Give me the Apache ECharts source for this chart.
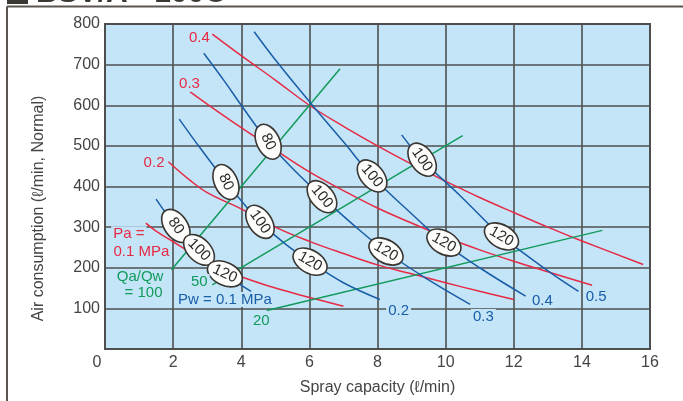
<!DOCTYPE html>
<html>
<head>
<meta charset="utf-8">
<script src="https://cdn.jsdelivr.net/npm/echarts@6/dist/echarts.min.js"></script>
<style>
html,body{margin:0;padding:0;background:#fff;}
#c{width:683px;height:401px;}
</style>
</head>
<body>
<div id="c"></div>
<script>
// ---- Axis ticks ----
const xTicks = [0, 2, 4, 6, 8, 10, 12, 14, 16];
const yTicks = [0, 100, 200, 300, 400, 500, 600, 700, 800];

// ---- Red curves: air pressure Pa (MPa) ----
const pa04X = [3.15, 4, 5, 6, 7, 8, 9, 10, 11, 12, 13, 14, 15.8];
const pa04Y = [775, 722, 662, 600, 548, 500, 455, 413, 373, 336, 300, 266, 208];
const pa03X = [2.5, 3, 4, 5, 6, 7, 8, 9, 10, 11, 12, 13, 14.3];
const pa03Y = [633, 603, 545, 490, 436, 390, 347, 310, 275, 244, 216, 190, 157];
const pa02X = [1.86, 2.5, 3, 4, 5, 6, 7, 8, 9, 10, 11, 12];
const pa02Y = [461, 415, 385, 345, 300, 265, 235, 207, 185, 163, 142, 122];
const pa01X = [1.2, 1.5, 2, 2.5, 3, 3.5, 4, 5, 6, 7];
const pa01Y = [310, 290, 264, 238, 215, 195, 178, 150, 127, 105];

// ---- Blue curves: water pressure Pw (MPa) ----
const pw01X = [1.5, 2.08, 2.76, 3.52, 4.29];
const pw01Y = [369, 303, 244, 185, 142];
const pw02X = [2.18, 2.8, 3.55, 4.05, 4.55, 5.3, 6.02, 7, 8.07];
const pw02Y = [566, 494, 411, 360, 313, 258, 215, 163, 122];
const pw03X = [2.9, 3.5, 4, 4.79, 5.5, 6.37, 7.3, 8.25, 9.5, 10.72];
const pw03Y = [728, 660, 600, 510, 445, 375, 305, 240, 170, 110];
const pw04X = [4.38, 5, 6.04, 7, 7.84, 9, 9.95, 11, 12.35];
const pw04Y = [781, 712, 605, 510, 426, 333, 262, 200, 130];
const pw05X = [8.71, 9.31, 10.42, 11.64, 12.08, 13.16, 13.9];
const pw05Y = [527, 466, 378, 277, 249, 183, 142];

// ---- Green lines: Qa/Qw ratio ----
const qr100X = [1.95, 6.9];
const qr100Y = [195, 690];
const qr50X = [3.15, 10.5];
const qr50Y = [158, 525];
const qr20X = [4.75, 14.6];
const qr20Y = [95, 292];

// ---- Ellipse markers (spray angle) on blue curves ----
const ellipseText = ['80', '100', '120', '80', '100', '120', '80', '100', '120', '100', '120', '100', '120'];
const ellipseX = [2.08, 2.76, 3.52, 3.55, 4.55, 6.02, 4.79, 6.37, 8.25, 7.84, 9.95, 9.31, 11.64];
const ellipseY = [303, 244, 185, 411, 313, 215, 510, 375, 240, 426, 262, 466, 277];
const ellipseTilt = [-55, -45, -25, -65, -55, -30, -65, -50, -30, -50, -30, -55, -30];

// ---- Curve annotations ----
const redText = ['0.4', '0.3', '0.2', 'Pa =', '0.1 MPa'];
const redX = [2.77, 2.48, 1.44, 0.70, 1.07];
const redY = [765, 652, 459, 284, 240];
const greenText = ['Qa/Qw', '= 100', '50', '20'];
const greenX = [1.03, 1.13, 2.77, 4.59];
const greenY = [178, 139, 166, 70];
const blueText = ['Pw = 0.1 MPa', '0.2', '0.3', '0.4', '0.5'];
const blueX = [3.52, 8.62, 11.11, 12.84, 14.42];
const blueY = [122, 95, 80, 119, 129];

const RED = '#e62a44';
const BLUE = '#1a5ea8';
const GREEN = '#119a5c';
const PLOT_BG = '#c4e5f7';
const GRID = '#4f4f4f';
const FONT = '"Liberation Sans", Arial, sans-serif';

function pts(xs, ys) { return xs.map((x, i) => [x, ys[i]]); }

function curve(xs, ys, color, smooth) {
  return {
    type: 'line', data: pts(xs, ys), smooth: smooth, showSymbol: false, symbol: 'none',
    lineStyle: { color: color, width: 1.5 }, silent: true, z: 2, animation: false
  };
}

function textSeries(texts, xs, ys, color) {
  return {
    type: 'custom', data: pts(xs, ys), z: 6, animation: false, silent: true, clip: false,
    encode: { x: 0, y: 1 },
    renderItem: function (params, api) {
      const p = api.coord([api.value(0), api.value(1)]);
      return {
        type: 'text', x: p[0], y: p[1],
        style: {
          text: texts[params.dataIndex], align: 'center', verticalAlign: 'middle',
          font: '15px ' + FONT, fill: color, backgroundColor: PLOT_BG, padding: [0, 2]
        }
      };
    }
  };
}

const series = [
  curve(pa04X, pa04Y, RED, 0.4),
  curve(pa03X, pa03Y, RED, 0.4),
  curve(pa02X, pa02Y, RED, 0.4),
  curve(pa01X, pa01Y, RED, 0.4),
  curve(qr100X, qr100Y, GREEN, false),
  curve(qr50X, qr50Y, GREEN, false),
  curve(qr20X, qr20Y, GREEN, false),
  curve(pw01X, pw01Y, BLUE, 0.4),
  curve(pw02X, pw02Y, BLUE, 0.4),
  curve(pw03X, pw03Y, BLUE, 0.4),
  curve(pw04X, pw04Y, BLUE, 0.4),
  curve(pw05X, pw05Y, BLUE, 0.4),
  {
    type: 'custom', data: pts(ellipseX, ellipseY), z: 5, animation: false, silent: true,
    encode: { x: 0, y: 1 },
    renderItem: function (params, api) {
      const i = params.dataIndex;
      const p = api.coord([api.value(0), api.value(1)]);
      return {
        type: 'group', x: p[0], y: p[1], rotation: ellipseTilt[i] * Math.PI / 180,
        children: [
          { type: 'ellipse', shape: { cx: 0, cy: 0, rx: 18.5, ry: 11.5 },
            style: { fill: '#fdfdfb', stroke: '#3a3632', lineWidth: 1.6 } },
          { type: 'text', x: 0, y: 0,
            style: { text: ellipseText[i], align: 'center', verticalAlign: 'middle',
                     font: '15px ' + FONT, fill: '#2a2a2a' } }
        ]
      };
    }
  },
  textSeries(redText, redX, redY, RED),
  textSeries(greenText, greenX, greenY, GREEN),
  textSeries(blueText, blueX, blueY, BLUE)
];

const chart = echarts.init(document.getElementById('c'), null, { renderer: 'canvas' });
chart.setOption({
  backgroundColor: '#ffffff',
  animation: false,
  textStyle: { fontFamily: FONT },
  grid: {
    left: 105, right: 33, top: 24, bottom: 52,
    show: true, backgroundColor: PLOT_BG, borderColor: GRID, borderWidth: 2,
    containLabel: false, outerBoundsMode: 'none'
  },
  xAxis: {
    type: 'value', min: xTicks[0], max: xTicks[xTicks.length - 1], interval: xTicks[1] - xTicks[0],
    name: 'Spray capacity (ℓ/min)', nameLocation: 'middle', nameGap: 31,
    nameTextStyle: { color: '#444', fontSize: 16, fontFamily: FONT },
    axisLine: { show: false }, axisTick: { show: false },
    axisLabel: {
      color: '#444', fontSize: 16, fontFamily: FONT, margin: 6,
      formatter: function (v) { return v === 0 ? '{z|0}' : String(v); },
      rich: { z: { color: '#444', fontSize: 16, fontFamily: FONT, padding: [0, 16, 0, 0] } }
    },
    splitLine: { show: true, lineStyle: { color: GRID, width: 1.6 } }
  },
  yAxis: {
    type: 'value', min: yTicks[0], max: yTicks[yTicks.length - 1], interval: yTicks[1] - yTicks[0],
    name: 'Air consumption (ℓ/min, Normal)', nameLocation: 'middle', nameGap: 58, nameRotate: 90,
    nameTextStyle: { color: '#444', fontSize: 16, fontFamily: FONT, padding: [0, 44, 0, 0] },
    axisLine: { show: false }, axisTick: { show: false },
    axisLabel: {
      color: '#444', fontSize: 16, fontFamily: FONT, margin: 5,
      formatter: function (v) { return v === 0 ? '' : String(v); }
    },
    splitLine: { show: true, lineStyle: { color: GRID, width: 1.6 } }
  },
  graphic: [
    { type: 'rect', shape: { x: 7, y: -20, width: 21, height: 24 }, style: { fill: '#3b3833' }, z: 10 },
    { type: 'text', x: 36, y: 9,
      style: { text: 'BSV/A - 100C', font: 'bold 30px ' + FONT, fill: '#3b3833', verticalAlign: 'bottom', align: 'left' }, z: 10 },
    { type: 'line', shape: { x1: 7, y1: 6.5, x2: 683, y2: 6.5 }, style: { stroke: '#5a5550', lineWidth: 2 }, z: 11 },
    { type: 'line', shape: { x1: 7, y1: 6.5, x2: 7, y2: 401 }, style: { stroke: '#5a5550', lineWidth: 2 }, z: 11 }
  ],
  series: series
});
</script>
</body>
</html>
